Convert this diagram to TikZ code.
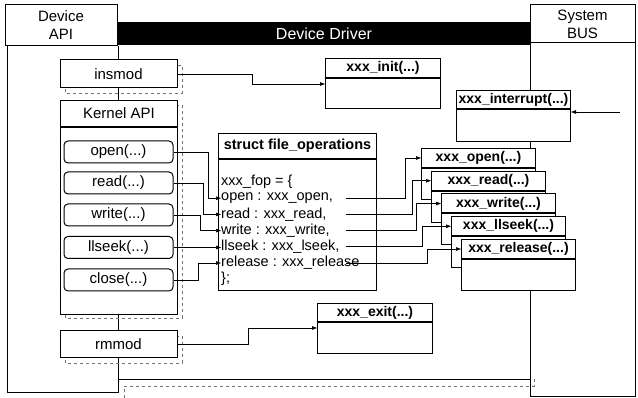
\documentclass[tikz,border=0pt]{standalone}
\usepackage{fontspec}
\setmainfont{Liberation Sans}
\usetikzlibrary{arrows.meta,calc}
\begin{document}
\begin{tikzpicture}[x=1pt,y=-1pt,
  box/.style={draw,line width=1pt,fill=white},
  wall/.style={line width=1pt},
  shad/.style={draw=black!55,dashed,line width=0.6pt},
  conn/.style={line width=0.7pt},
  arr/.style={conn,-{Triangle[length=5pt,width=3.5pt]}},
  lbl/.style={font=\fontsize{15}{18}\selectfont,inner sep=0pt},
  code/.style={font=\fontsize{14.5}{17}\selectfont,inner sep=0pt,anchor=west},
  hdr/.style={box,font=\bfseries\fontsize{14}{17}\selectfont,inner sep=0pt,anchor=north west},
  body/.style={box,inner sep=0pt,anchor=north west},
  fn/.style={box,lbl,rounded corners=4pt,minimum width=109pt,minimum height=22pt},
]
\useasboundingbox (0,0) rectangle (638,398);
\fill[white] (0,0) rectangle (638,398);

% System BUS column
\draw[wall] (530,43) -- (530,397) -- (635,397) -- (635,43);
\node[box,lbl,align=center,minimum width=105pt,minimum height=38pt] (bus) at (582.5,24) {System\\BUS};

% Device Driver region
\draw[shad] (124,398) -- (124,386) -- (534,386) -- (534,378);
\draw[wall] (118,46) -- (118,393);
\draw[wall] (118,380) -- (530,380);
\node[fill=black,text=white,inner sep=0pt,minimum width=412pt,minimum height=23pt,
      font=\fontsize{16}{18}\selectfont] (dd) at (324,33.5) {Device Driver};

% Device API column
\draw[wall] (7,46) -- (7,393) -- (118,393);
\node[box,lbl,align=center,minimum width=112pt,minimum height=41pt] (devapi) at (61,25.5) {Device\\API};

% insmod
\draw[shad] (65,65) rectangle (182,93);
\node[box,lbl,minimum width=117pt,minimum height=28pt] (insmod) at (118.5,74) {insmod};

% Kernel API
\draw[shad] (65,105) rectangle (182,318);
\node[box,lbl,anchor=north west,minimum width=117pt,minimum height=26pt] (kapi) at (60,100) {Kernel API};
\node[body,minimum width=117pt,minimum height=187pt] (kapib) at (kapi.south west) {};
\node[fn] (kopen) at (118.5,152) {open(...)};
\node[fn] (kread) at (118.5,183) {read(...)};
\node[fn] (kwrite) at (118.5,215) {write(...)};
\node[fn] (kllseek) at (118.5,247.5) {llseek(...)};
\node[fn] (kclose) at (118.5,280) {close(...)};

% rmmod
\draw[shad] (65,336) rectangle (182,363);
\node[box,lbl,minimum width=117pt,minimum height=27pt] (rmmod) at (118.5,344.5) {rmmod};

% struct file_operations
\node[hdr,font=\bfseries\fontsize{14.5}{17}\selectfont,minimum width=158pt,minimum height=25pt] (fops) at (218,133) {struct file\_operations};
\node[body,minimum width=158pt,minimum height=131pt] (fopsb) at (fops.south west) {};
\node[code] (sfop) at (221,182) {xxx\_fop = \{};
\node[code] (sopen) at (221,198.2) {open : xxx\_open,};
\node[code] (sread) at (221,214.4) {read : xxx\_read,};
\node[code] (swrite) at (221,230.6) {write : xxx\_write,};
\node[code] (sllseek) at (221,246.8) {llseek : xxx\_lseek,};
\node[code] (srelease) at (221,263) {release : xxx\_release};
\node[code] (send) at (221,279.2) {\};};

% xxx_init
\node[hdr,minimum width=115pt,minimum height=19pt] (xinit) at (325,58) {xxx\_init(...)};
\node[body,minimum width=115pt,minimum height=30pt] (xinitb) at (xinit.south west) {};

% xxx_interrupt
\node[hdr,minimum width=114pt,minimum height=18pt] (xint) at (456,90) {xxx\_interrupt(...)};
\node[body,minimum width=114pt,minimum height=32pt] (xintb) at (xint.south west) {};
\coordinate (irq) at (620,112);

% xxx_exit
\node[hdr,minimum width=115pt,minimum height=18pt] (xexit) at (317,303) {xxx\_exit(...)};
\node[body,minimum width=115pt,minimum height=31pt] (xexitb) at (xexit.south west) {};

% stacked handlers
\node[hdr,minimum width=114pt,minimum height=19pt] (xopen) at (421,148) {xxx\_open(...)};
\node[body,minimum width=114pt,minimum height=31pt] (xopenb) at (xopen.south west) {};
\node[hdr,minimum width=114pt,minimum height=19pt] (xread) at (431,170.75) {xxx\_read(...)};
\node[body,minimum width=114pt,minimum height=31pt] (xreadb) at (xread.south west) {};
\node[hdr,minimum width=114pt,minimum height=19pt] (xwrite) at (441,193.5) {xxx\_write(...)};
\node[body,minimum width=114pt,minimum height=31pt] (xwriteb) at (xwrite.south west) {};
\node[hdr,minimum width=114pt,minimum height=19pt] (xllseek) at (451,216.25) {xxx\_llseek(...)};
\node[body,minimum width=114pt,minimum height=31pt] (xllseekb) at (xllseek.south west) {};
\node[hdr,minimum width=114pt,minimum height=19pt] (xrelease) at (461,239) {xxx\_release(...)};
\node[body,minimum width=114pt,minimum height=31pt] (xreleaseb) at (xrelease.south west) {};

% connectors
\draw[arr] (insmod.east) -- ++(75,0) |- ($(xinitb.north west)+(0,6)$);
\draw[arr] (rmmod.east) -- ++(71,0) |- ($(xexitb.north west)+(0,6)$);
\draw[arr] (irq) -- (irq -| xintb.east);

\draw[arr] (kopen.east) -- ++(35,0) |- (sopen.west);
\draw[arr] (kread.east) -- ++(30,0) |- (sread.west);
\draw[arr] (kwrite.east) -- ++(27,0) |- (swrite.west);
\draw[arr] (kllseek.east) -- (kllseek.east -| sllseek.west);
\draw[arr] (kclose.east) -- ++(25,0) |- (srelease.west);

\draw[arr] (sopen.west) ++(125,0) -- ++(59,0) |- (xopen.west);
\draw[arr] (sread.west) ++(125,0) -- ++(66,0) |- (xread.west);
\draw[arr] (swrite.west) ++(125,0) -- ++(70,0) |- (xwrite.west);
\draw[arr] (sllseek.west) ++(125,0) -- ++(76,0) |- (xllseek.west);
\draw[arr] (srelease.west) ++(125,0) -- ++(81,0) |- (xrelease.west);
\end{tikzpicture}
\end{document}
